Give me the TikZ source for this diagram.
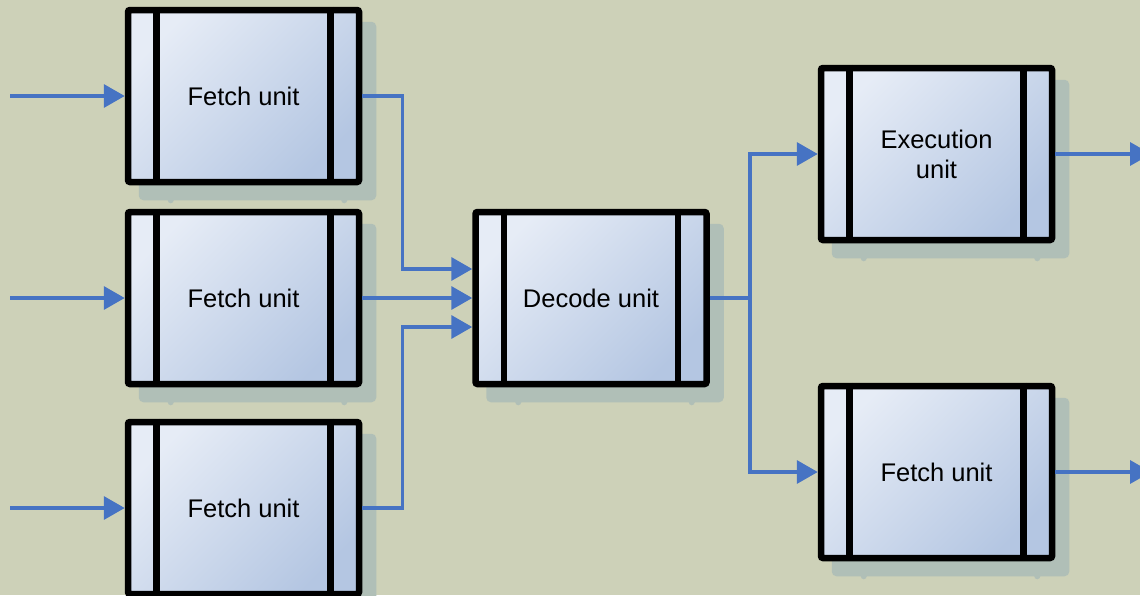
\documentclass[tikz,border=0pt]{standalone}
\usepackage{fontspec}
\setmainfont{Liberation Sans}
\usetikzlibrary{arrows.meta,shadows}
\definecolor{bg}{HTML}{CDD1B8}
\definecolor{boxlight}{HTML}{E6ECF6}
\definecolor{boxdark}{HTML}{B4C6E2}
\definecolor{shadowc}{HTML}{B0BFB7}
\definecolor{arrowblue}{HTML}{4673C3}
\begin{document}
\begin{tikzpicture}[x=1pt,y=-1pt,
  unit/.style={draw=black, line width=6.5pt, rounded corners=2pt,
    minimum width=231pt, minimum height=172pt, inner sep=0pt,
    top color=boxlight, bottom color=boxdark, shading angle=45,
    font=\fontsize{25.5}{30}\selectfont, align=center, text=black,
    general shadow={fill=shadowc, draw=shadowc, line width=6.5pt,
      shadow xshift=14pt, shadow yshift=-15pt}},
  divider/.style={draw=black, line width=6.5pt},
  conn/.style={draw=arrowblue, line width=3.5pt},
  arr/.style={conn, -{Triangle[length=21pt,width=23pt]}}]
\useasboundingbox (0,0) rectangle (1140,595);
\clip (0,0) rectangle (1140,595);
\fill[bg] (0,0) rectangle (1140,595);

\node[unit] (f1) at (243.5,96) {Fetch unit};
\node[unit] (f2) at (243.5,298) {Fetch unit};
\node[unit] (f3) at (243.5,508) {Fetch unit};
\node[unit] (d) at (591,298) {Decode unit};
\node[unit] (e) at (936.5,154) {Execution\\unit};
\node[unit] (g) at (936.5,472) {Fetch unit};

\foreach \n in {f1,f2,f3,d,e,g}{
  \draw[divider] ([xshift=31.75pt]\n.north west) -- ([xshift=31.75pt]\n.south west);
  \draw[divider] ([xshift=-31.75pt]\n.north east) -- ([xshift=-31.75pt]\n.south east);
  \fill[shadowc] ([shift={(46pt,-15pt)}]\n.south west) circle[radius=3pt];
  \fill[shadowc] ([shift={(-18pt,-15pt)}]\n.south east) circle[radius=3pt];
}

\coordinate (in1) at (10,96);
\coordinate (in2) at (10,298);
\coordinate (in3) at (10,508);
\coordinate (out1) at (1151,154);
\coordinate (out2) at (1151,472);

\draw[arr] (in1) -- (f1.west);
\draw[arr] (in2) -- (f2.west);
\draw[arr] (in3) -- (f3.west);

\draw[arr] (f1.east) -- ++(40,0) |- ([yshift=29pt]d.west);
\draw[arr] (f2.east) -- (d.west);
\draw[arr] (f3.east) -- ++(40,0) |- ([yshift=-29pt]d.west);

\draw[arr] (d.east) -- ++(40,0) |- (e.west);
\draw[arr] (d.east) -- ++(40,0) |- (g.west);

\draw[arr] (e.east) -- (out1);
\draw[arr] (g.east) -- (out2);
\end{tikzpicture}
\end{document}
